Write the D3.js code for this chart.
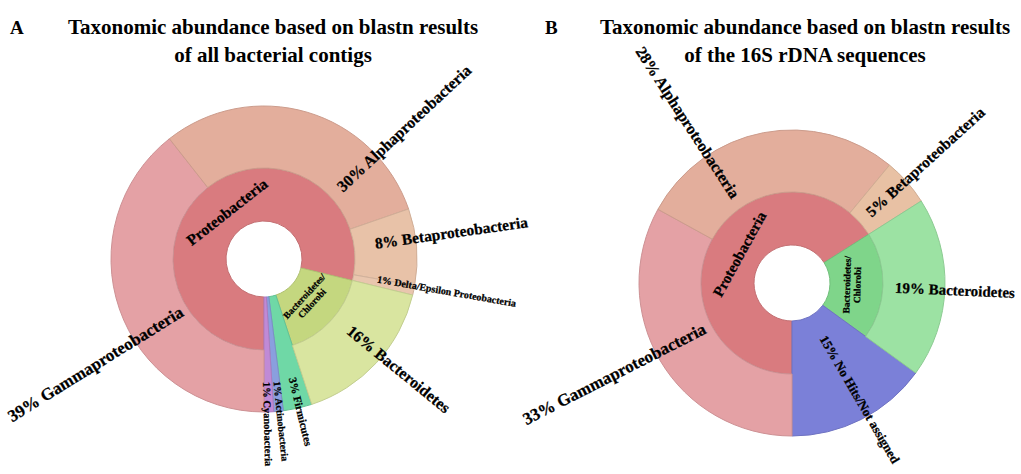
<!DOCTYPE html>
<html>
<head>
<meta charset="utf-8">
<script src="https://cdn.jsdelivr.net/npm/d3@7"></script>
<style>
  body { margin: 0; background: #fff; }
  svg text { font-family: "Liberation Serif", "Times New Roman", serif; font-weight: bold; fill: #000; }
  svg text.lbl { stroke: #000; stroke-width: 0.25px; }
</style>
</head>
<body>
<div id="chart"></div>
<script>
var svgWidth = 1021;
var svgHeight = 474;

// Panel A - blastn results of all bacterial contigs
var taxaA = ["Gammaproteobacteria", "Alphaproteobacteria", "Betaproteobacteria", "Delta/Epsilon Proteobacteria",
  "Bacteroidetes", "Firmicutes", "Actinobacteria", "Cyanobacteria"];
var phylaA = ["Proteobacteria", "Proteobacteria", "Proteobacteria", "Proteobacteria",
  "Bacteroidetes/Chlorobi", "", "", ""];
var percentA = [39, 30, 8, 1, 16, 3, 1, 1];
var titleA = ["Taxonomic abundance based on blastn results", "of all bacterial contigs"];

// Panel B - blastn results of the 16S rDNA sequences
var taxaB = ["Gammaproteobacteria", "Alphaproteobacteria", "Betaproteobacteria", "Bacteroidetes", "No Hits/Not assigned"];
var phylaB = ["Proteobacteria", "Proteobacteria", "Proteobacteria", "Bacteroidetes/Chlorobi", ""];
var percentB = [33, 28, 5, 19, 15];
var titleB = ["Taxonomic abundance based on blastn results", "of the 16S rDNA sequences"];

// colours (krona-like)
var colorsA = {
  "Proteobacteria": "#d97b7f",
  "Gammaproteobacteria": "#e4a1a5",
  "Alphaproteobacteria": "#e3ae9c",
  "Betaproteobacteria": "#e8c2a8",
  "Delta/Epsilon Proteobacteria": "#e9c6ae",
  "Bacteroidetes/Chlorobi": "#c4d77f",
  "Bacteroidetes": "#d9e5a0",
  "Firmicutes": "#6fd8a6",
  "Actinobacteria": "#8a9fde",
  "Cyanobacteria": "#c08ad6"
};
var colorsB = {
  "Proteobacteria": "#d97b7f",
  "Gammaproteobacteria": "#e4a1a5",
  "Alphaproteobacteria": "#e3ae9c",
  "Betaproteobacteria": "#e8c1a4",
  "Bacteroidetes/Chlorobi": "#7fd58a",
  "Bacteroidetes": "#9ce2a3",
  "No Hits/Not assigned": "#7b80d8"
};

// where each outer label sits: fraction along its arc, start radius, font size
var labelsA = {
  "Gammaproteobacteria": {f: 0.41, r: 97, size: 17},
  "Alphaproteobacteria": {f: 0.78, r: 103, size: 16},
  "Betaproteobacteria": {f: 0.38, r: 112, size: 15.5},
  "Delta/Epsilon Proteobacteria": {f: 0.0, r: 115, size: 10},
  "Bacteroidetes": {f: 0.44, r: 110, size: 16},
  "Firmicutes": {f: 0.43, r: 122, size: 11},
  "Actinobacteria": {f: 0.35, r: 123, size: 10},
  "Cyanobacteria": {f: 0.64, r: 123, size: 10.5}
};
var labelsB = {
  "Gammaproteobacteria": {f: 0.53, r: 98, size: 17},
  "Alphaproteobacteria": {f: 0.28, r: 103, size: 16},
  "Betaproteobacteria": {f: 0.45, r: 103, size: 15.5},
  "Bacteroidetes": {f: 0.51, r: 103, size: 15},
  "No Hits/Not assigned": {f: 0.44, r: 62, size: 13}
};

var svg = d3.select("#chart")
  .append("svg")
  .attr("width", svgWidth)
  .attr("height", svgHeight);

// radius for depth 1..3 (hole edge, ring boundary, outer rim)
var radius = d3.scaleLinear().domain([1, 2, 3]).range([38, 91, 153]);

function buildTree(taxa, phyla, pct) {
  var root = {name: "root", children: []};
  taxa.forEach(function(t, i) {
    var leaf = {name: t, value: pct[i]};
    if (!phyla[i]) {
      root.children.push(leaf);
      return;
    }
    var p = root.children.find(c => c.name === phyla[i]);
    if (!p) {
      p = {name: phyla[i], children: []};
      root.children.push(p);
    }
    p.children.push(leaf);
  });
  return root;
}

function drawPanel(opts) {
  var g = svg.append("g")
    .attr("transform", `translate(${opts.cx}, ${opts.cy})`);

  var root = d3.hierarchy(buildTree(opts.taxa, opts.phyla, opts.pct))
    .sum(d => d.value || 0);
  d3.partition().size([2 * Math.PI, 3])(root);

  var nodes = root.descendants().filter(d => d.depth > 0);

  var arc = d3.arc()
    .startAngle(d => d.x0 + Math.PI)
    .endAngle(d => d.x1 + Math.PI)
    .innerRadius(d => radius(d.y0))
    .outerRadius(d => radius(d.children ? d.y1 : 3));

  g.selectAll("path")
    .data(nodes)
    .enter()
    .append("path")
    .attr("d", arc)
    .attr("fill", d => opts.colors[d.data.name])
    .attr("stroke", d => d3.color(opts.colors[d.data.name]).darker(0.3))
    .attr("stroke-width", 1);

  // inner (phylum) labels, tangential
  var inner = nodes.filter(d => d.children);
  inner.forEach(function(d) {
    var a = ((d.x0 + d.x1) / 2 + Math.PI) * 180 / Math.PI % 360;
    var flip = a > 90 && a < 270;
    var lines = d.data.name.indexOf("/") > 0 ? [d.data.name.split("/")[0] + "/", d.data.name.split("/")[1]] : [d.data.name];
    var size = lines.length > 1 ? 9.5 : opts.innerSize;
    var t = g.append("text")
      .attr("class", "lbl")
      .attr("transform", `rotate(${a}) translate(0, ${-opts.innerR}) rotate(${flip ? 180 : 0})`)
      .attr("text-anchor", "middle")
      .style("font-size", size + "px");
    lines.forEach(function(line, i) {
      t.append("tspan")
        .attr("x", 0)
        .attr("dy", i === 0 ? (0.35 - (lines.length - 1) * 0.55) + "em" : "1.1em")
        .text(line);
    });
  });

  // outer (leaf) labels, radial
  root.leaves().forEach(function(d) {
    var cfg = opts.labels[d.data.name];
    var a = (d.x0 + cfg.f * (d.x1 - d.x0) + Math.PI) * 180 / Math.PI % 360;
    var right = a < 180;
    g.append("text")
      .attr("class", "lbl")
      .attr("transform", right ? `rotate(${a - 90}) translate(${cfg.r}, 0)` : `rotate(${a + 90}) translate(${-cfg.r}, 0)`)
      .attr("text-anchor", right ? "start" : "end")
      .attr("dy", "0.35em")
      .style("font-size", cfg.size + "px")
      .text(d.data.value + "% " + d.data.name);
  });

  // panel letter and title
  svg.append("text")
    .attr("x", opts.letterX)
    .attr("y", 34)
    .style("font-size", "19px")
    .text(opts.letter);

  svg.selectAll(null)
    .data(opts.title)
    .enter()
    .append("text")
    .attr("x", opts.titleX)
    .attr("y", (d, i) => 34 + i * 28)
    .attr("text-anchor", "middle")
    .style("font-size", "21px")
    .text(d => d);
}

drawPanel({
  cx: 264, cy: 259,
  taxa: taxaA, phyla: phylaA, pct: percentA,
  colors: colorsA, labels: labelsA,
  innerR: 60, innerSize: 15.5,
  letter: "A", letterX: 10, title: titleA, titleX: 273
});

drawPanel({
  cx: 792, cy: 283,
  taxa: taxaB, phyla: phylaB, pct: percentB,
  colors: colorsB, labels: labelsB,
  innerR: 60, innerSize: 15,
  letter: "B", letterX: 545, title: titleB, titleX: 805
});
</script>
</body>
</html>
